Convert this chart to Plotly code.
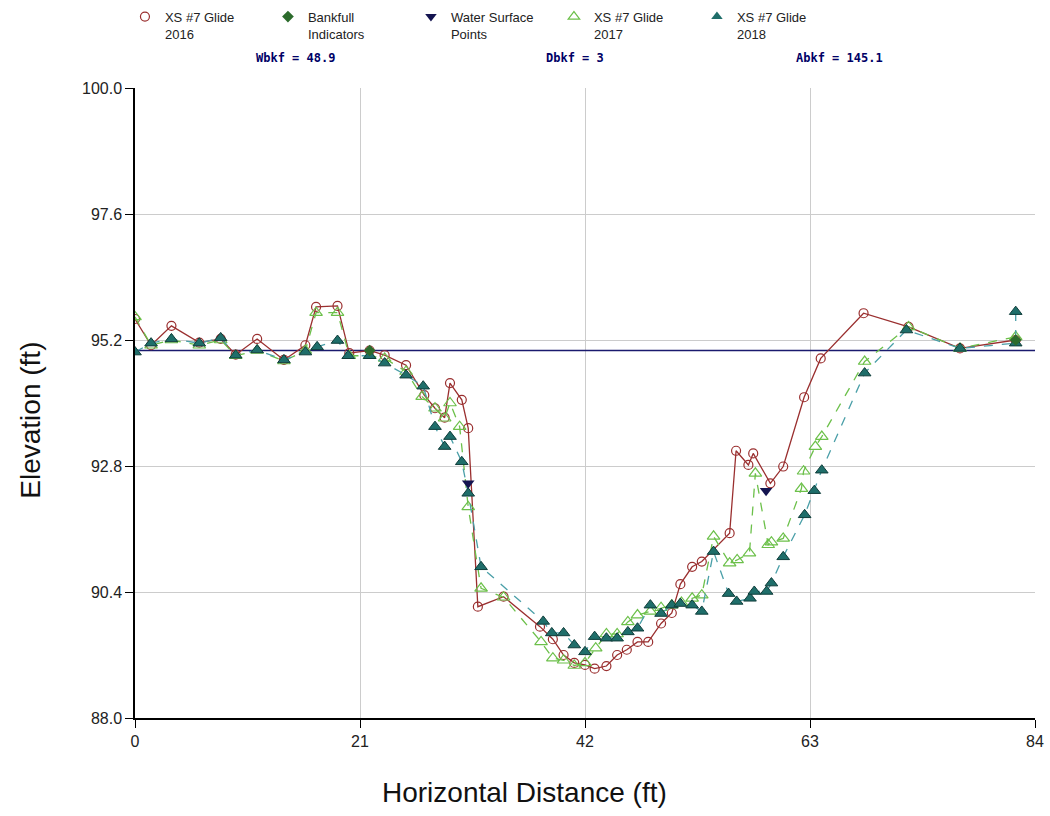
import plotly.graph_objects as go

# ---- data ----
x_2016 = [0, 1.5, 3.4, 6.0, 8.0, 9.4, 11.4, 13.9, 15.9, 16.9, 18.9, 20.0, 21.9, 23.3, 25.3, 27.0,
          28.0, 28.9, 29.4, 30.5, 31.1, 32.0, 34.4, 37.8, 39.0, 40.0, 41.0, 42.0, 42.9, 44.0,
          45.0, 45.9, 46.9, 47.9, 49.1, 50.1, 50.9, 52.0, 52.9, 55.5, 56.1, 57.25, 57.7, 59.3,
          60.5, 62.45, 64.0, 68.0, 72.2, 77.0, 82.2]
y_2016 = [95.6, 95.1, 95.47, 95.15, 95.22, 94.92, 95.22, 94.82, 95.1, 95.83, 95.85, 94.95, 95.0,
          94.91, 94.72, 94.15, 93.9, 93.72, 94.38, 94.06, 93.52, 90.12, 90.31, 89.74, 89.5, 89.2,
          89.05, 89.01, 88.94, 88.99, 89.2, 89.3, 89.45, 89.45, 89.8, 90.0, 90.55, 90.88, 90.98,
          91.52, 93.09, 92.82, 93.04, 92.47, 92.79, 94.11, 94.85, 95.71, 95.45, 95.04, 95.2]

x_2017 = [0, 1.5, 3.4, 6.0, 8.0, 9.4, 11.4, 13.9, 15.9, 16.9, 18.9, 20.0, 21.9, 23.3, 25.3, 26.8,
          28.0, 28.9, 29.4, 30.3, 31.1, 32.3, 34.4, 37.9, 39.0, 40.0, 41.0, 42.0, 43.0, 44.0,
          45.0, 46.0, 46.9, 48.1, 49.1, 50.1, 51.0, 52.0, 52.9, 54.0, 55.5, 56.2, 57.35, 57.9,
          59.1, 59.4, 60.5, 62.2, 62.4, 63.5, 64.1, 68.1, 72.2, 77.0, 82.2]
y_2017 = [95.64, 95.1, 95.2, 95.1, 95.2, 94.9, 95.0, 94.8, 95.0, 95.72, 95.72, 94.9, 94.9, 94.85,
          94.6, 94.12, 93.9, 93.71, 94.0, 93.55, 92.02, 90.47, 90.3, 89.45, 89.14, 89.1, 89.0,
          89.05, 89.33, 89.6, 89.6, 89.83, 89.96, 90.03, 90.1, 90.15, 90.2, 90.28, 90.34, 91.46,
          90.95, 91.01, 91.14, 92.66, 91.3, 91.35, 91.42, 92.37, 92.7, 93.17, 93.36, 94.79, 95.45,
          95.04, 95.26]

x_2018 = [0, 1.5, 3.4, 6.0, 8.0, 9.4, 11.4, 13.9, 15.9, 17.0, 18.9, 19.9, 21.9, 23.3, 25.3, 26.9,
          28.0, 28.9, 29.4, 30.5, 31.1, 32.3, 38.1, 38.9, 40.0, 41.0, 42.0, 42.9, 44.0, 45.0,
          46.0, 46.9, 48.1, 49.1, 50.1, 50.9, 52.0, 52.9, 54.0, 55.4, 56.15, 57.4, 57.8, 58.95,
          59.4, 60.5, 62.5, 63.4, 64.1, 68.1, 72.0, 77.0, 82.2, 82.2]
y_2018 = [94.97, 95.14, 95.22, 95.14, 95.24, 94.91, 95.01, 94.82, 94.97, 95.07, 95.19, 94.9,
          94.9, 94.76, 94.53, 94.32, 93.55, 93.17, 93.36, 92.88, 92.28, 90.88, 89.84, 89.62,
          89.62, 89.39, 89.26, 89.55, 89.52, 89.52, 89.64, 89.71, 90.15, 89.99, 90.15, 90.18,
          90.15, 90.03, 91.17, 90.37, 90.22, 90.28, 90.41, 90.41, 90.57, 91.07, 91.87, 92.33,
          92.72, 94.57, 95.39, 95.04, 95.14, 95.74]

x_bankfull = [21.9, 82.2]
y_bankfull = [95.0, 95.2]

x_ws = [31.1, 58.9]
y_ws = [92.47, 92.33]

bankfull_elev = 95.0
x_range = [0, 84]
y_range = [88.0, 100.0]
x_ticks = [0, 21, 42, 63, 84]
y_ticks = [88.0, 90.4, 92.8, 95.2, 97.6, 100.0]

stats_labels = ["Wbkf = 48.9", "Dbkf = 3", "Abkf = 145.1"]
stats_pos = [0.178, 0.489, 0.783]

x_title = "Horizontal Distance (ft)"
y_title = "Elevation (ft)"

# ---- style ----
C16 = "#9a2f2f"
C17 = "#6cc04a"
C18_FILL = "#1f6e6a"
C18_LINE = "#4a9fa8"
CWS = "#141450"
CBK = "#2c6b2c"
NAVY = "#1a1a6e"

fig = go.Figure()

# bankfull elevation line across the full range
fig.add_trace(go.Scatter(x=x_range, y=[bankfull_elev, bankfull_elev], mode="lines",
                         line=dict(color=NAVY, width=1.5), showlegend=False, hoverinfo="skip"))

fig.add_trace(go.Scatter(x=x_2016, y=y_2016, mode="lines+markers", showlegend=False,
                         line=dict(color=C16, width=1.3),
                         marker=dict(symbol="circle-open", size=9, color=C16, line=dict(width=1.2))))
fig.add_trace(go.Scatter(x=x_2017, y=y_2017, mode="lines+markers", showlegend=False,
                         line=dict(color=C17, width=1.3, dash="dash"),
                         marker=dict(symbol="triangle-up-open", size=11, color=C17, line=dict(width=1.2))))
fig.add_trace(go.Scatter(x=x_2018, y=y_2018, mode="lines+markers", showlegend=False,
                         line=dict(color=C18_LINE, width=1.3, dash="dash"),
                         marker=dict(symbol="triangle-up", size=11, color=C18_FILL,
                                     line=dict(color="#0f3d3a", width=1))))
fig.add_trace(go.Scatter(x=x_bankfull, y=y_bankfull, mode="markers", showlegend=False,
                         marker=dict(symbol="diamond", size=9, color=CBK)))
fig.add_trace(go.Scatter(x=x_ws, y=y_ws, mode="markers", showlegend=False,
                         marker=dict(symbol="triangle-down", size=11, color=CWS)))

# legend entries (marker only)
legend_items = [
    ("XS #7 Glide<br>2016", dict(symbol="circle-open", size=9, color=C16, line=dict(width=1.2))),
    ("Bankfull<br>Indicators", dict(symbol="diamond", size=9, color=CBK)),
    ("Water Surface<br>Points", dict(symbol="triangle-down", size=10, color=CWS)),
    ("XS #7 Glide<br>2017", dict(symbol="triangle-up-open", size=10, color=C17, line=dict(width=1.2))),
    ("XS #7 Glide<br>2018", dict(symbol="triangle-up", size=10, color=C18_FILL)),
]
for name, mk in legend_items:
    fig.add_trace(go.Scatter(x=[None], y=[None], mode="markers", name=name, marker=mk,
                             showlegend=True))

for lab, px in zip(stats_labels, stats_pos):
    fig.add_annotation(text="<b>" + lab + "</b>", xref="paper", yref="paper", x=px, y=1.048,
                       xanchor="center", yanchor="middle", showarrow=False,
                       font=dict(family="DejaVu Sans Mono", size=12, color="#000066"))

fig.add_annotation(text=x_title, xref="paper", yref="paper", x=0.4333, y=-0.118,
                   xanchor="center", yanchor="middle", showarrow=False,
                   font=dict(size=28, color="#111111"))
fig.add_annotation(text=y_title, xref="paper", yref="paper", x=-0.117, y=0.473,
                   xanchor="center", yanchor="middle", showarrow=False, textangle=-90,
                   font=dict(size=28, color="#111111"))

fig.update_layout(
    width=1050, height=816,
    margin=dict(l=135, r=15, t=88, b=98, autoexpand=False),
    paper_bgcolor="white", plot_bgcolor="white",
    font=dict(family="Liberation Sans, Arial, sans-serif", color="#222222"),
    legend=dict(orientation="h", xref="container", yref="container", x=0.119, y=0.998,
                xanchor="left", yanchor="top", entrywidth=98, entrywidthmode="pixels",
                font=dict(size=13, color="#222222"), itemsizing="trace",
                tracegroupgap=0, valign="top", bgcolor="rgba(0,0,0,0)"),
    xaxis=dict(range=x_range, tickvals=x_ticks, ticktext=[str(t) for t in x_ticks],
               showgrid=True, gridcolor="#cccccc", gridwidth=1,
               showline=True, linecolor="black", linewidth=1.5,
               ticks="outside", ticklen=8, tickcolor="black",
               tickfont=dict(size=16, color="#222222"), zeroline=False),
    yaxis=dict(range=y_range, tickvals=y_ticks, ticktext=["%.1f" % t for t in y_ticks],
               showgrid=True, gridcolor="#cccccc", gridwidth=1,
               showline=True, linecolor="black", linewidth=1.5,
               ticks="outside", ticklen=8, tickcolor="black",
               tickfont=dict(size=16, color="#222222"), zeroline=False),
)

fig.write_html("out.html")
